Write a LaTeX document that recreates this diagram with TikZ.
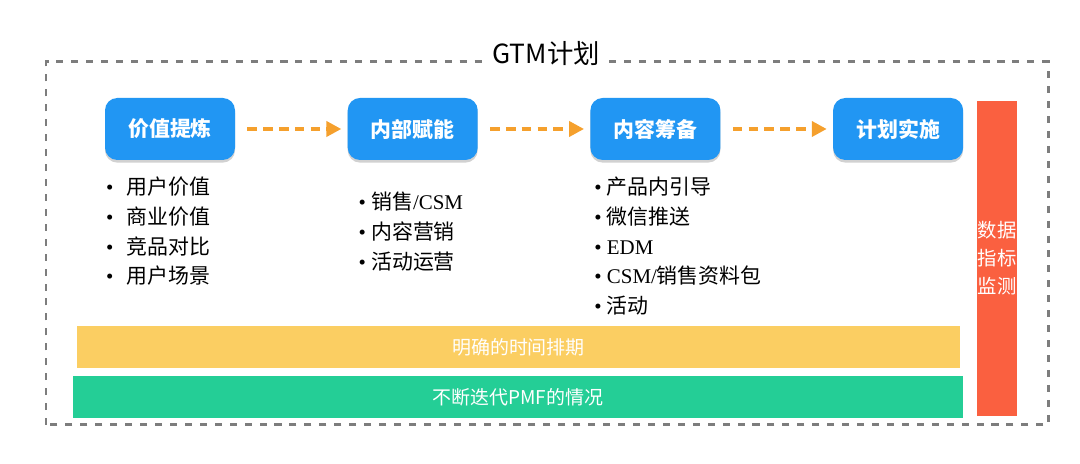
\documentclass[tikz,border=0pt]{standalone}
\usepackage{fontspec}
\setmainfont{Liberation Serif}
\newfontfamily\cjk{Noto Sans CJK SC}
\usetikzlibrary{arrows.meta,positioning,shadows}
\definecolor{gtmBlue}{RGB}{33,150,243}
\definecolor{gtmOrange}{RGB}{245,160,45}
\definecolor{gtmYellow}{RGB}{251,206,98}
\definecolor{gtmGreen}{RGB}{36,206,150}
\definecolor{gtmRed}{RGB}{250,96,64}
\definecolor{gtmGray}{RGB}{125,125,125}

\begin{document}
\begin{tikzpicture}[>={Triangle[length=0.3cm,width=0.3cm]}, node distance=2.24cm]
\tikzstyle{stage}=[fill=gtmBlue, rounded corners=7pt, minimum width=2.6cm, minimum height=1.24cm, text=white, font=\cjk\bfseries\fontsize{11.9}{14}\selectfont, drop shadow={shadow xshift=0pt, shadow yshift=-1.5pt, opacity=0.3, fill=black!60}]
\tikzstyle{items}=[align=left, inner sep=0pt, font=\fontsize{11.9}{17}\selectfont]
\tikzstyle{bar}=[minimum height=0.84cm, text=white, font=\cjk\fontsize{10.8}{13}\selectfont]
\tikzstyle{flow}=[->, gtmOrange, line width=2.4pt, dash pattern=on 5.5pt off 3.5pt, shorten <=0.24cm, shorten >=0.12cm]

\useasboundingbox (0,0) rectangle (21.6,9.28);
\draw[gtmGray, line width=1.7pt, dash pattern=on 4pt off 4.5pt] (0.92,0.78) rectangle (20.96,8.04);
\node[fill=white, inner sep=2pt, font=\cjk\fontsize{15}{17}\selectfont] (title) at (10.92,8.2) {GTM计划};

% stages
\node[stage] (refine) at (3.40,6.70) {价值提炼};
\node[stage, right=of refine] (enable) {内部赋能};
\node[stage, right=of enable] (prep) {内容筹备};
\node[stage, right=of prep] (launch) {计划实施};

\draw[flow] (refine) -- (enable);
\draw[flow] (enable) -- (prep);
\draw[flow] (prep) -- (launch);

% item lists
\node[items, below right=0.32cm and 0.02cm of refine.south west] (refineItems) {\textbullet\hspace{0.65em}{\cjk 用户价值}\\\textbullet\hspace{0.65em}{\cjk 商业价值}\\\textbullet\hspace{0.65em}{\cjk 竞品对比}\\\textbullet\hspace{0.65em}{\cjk 用户场景}};
\node[items, below right=0.62cm and 0.22cm of enable.south west] (enableItems) {\textbullet\ {\cjk 销售}/CSM\\\textbullet\ {\cjk 内容营销}\\\textbullet\ {\cjk 活动运营}};
\node[items, below right=0.32cm and 0.08cm of prep.south west] (prepItems) {\textbullet\ {\cjk 产品内引导}\\\textbullet\ {\cjk 微信推送}\\\textbullet\ EDM\\\textbullet\ CSM/{\cjk 销售资料包}\\\textbullet\ {\cjk 活动}};

% bars
\node[bar, fill=gtmYellow, minimum width=17.66cm] (schedule) at (10.37,2.34) {明确的时间排期};
\node[bar, fill=gtmGreen, minimum width=17.8cm] (iterate) at (10.36,1.34) {不断迭代PMF的情况};
\node[fill=gtmRed, minimum width=0.8cm, minimum height=6.3cm, inner sep=0pt, text=white, align=center, font=\cjk\fontsize{11}{15.9}\selectfont] (monitor) at (19.94,4.11) {数据\\指标\\监测};
\end{tikzpicture}
\end{document}
